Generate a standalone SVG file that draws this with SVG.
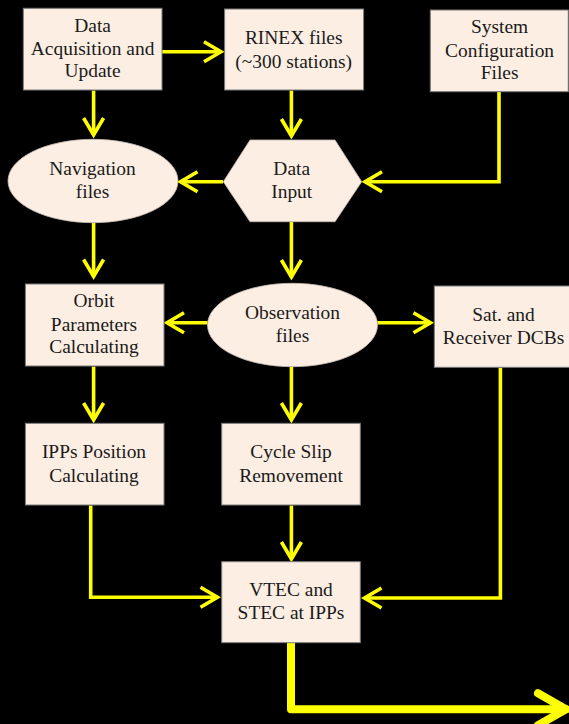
<svg xmlns="http://www.w3.org/2000/svg" width="569" height="724" viewBox="0 0 569 724">
  <style>
    .node { fill: #FCEEE3; stroke: #7a7a7a; stroke-width: 1; }
    .soft { fill: #FCEEE3; stroke: #c8bdb5; stroke-width: 0.8; }
    .lbl { font-family: "Liberation Serif", "Times New Roman", serif; font-size: 18px; fill: #1a1a1a; text-anchor: middle; }
    .wire { fill: none; stroke: #FFFF00; stroke-width: 3.6; stroke-linejoin: miter; }
    .wire-out { fill: none; stroke: #FFFF00; stroke-width: 8; stroke-linejoin: round; stroke-linecap: round; }
  </style>
  <defs>
    <marker id="head" markerUnits="userSpaceOnUse" viewBox="-24 -14 28 28" markerWidth="28" markerHeight="28" refX="0" refY="0" orient="auto" overflow="visible">
      <path d="M-17,-10 L0,0 L-17,10" fill="none" stroke="#FFFF00" stroke-width="3.6" stroke-linejoin="miter"/>
    </marker>
    <marker id="head-big" markerUnits="userSpaceOnUse" viewBox="-36 -22 40 44" markerWidth="40" markerHeight="44" refX="0" refY="0" orient="auto" overflow="visible">
      <path d="M-28,-16 L0,0 L-28,16" fill="none" stroke="#FFFF00" stroke-width="8" stroke-linejoin="round" stroke-linecap="round"/>
    </marker>
  </defs>

  <rect width="569" height="724" fill="#000000"/>

  <!-- connectors -->
  <g id="connectors">
    <path class="wire" d="M162,51.7 H221" marker-end="url(#head)"/>
    <path class="wire" d="M93.6,90.5 V135" marker-end="url(#head)"/>
    <path class="wire" d="M291.4,90.5 V136" marker-end="url(#head)"/>
    <path class="wire" d="M499,92 V181.7 H365" marker-end="url(#head)"/>
    <path class="wire" d="M223,181.7 H180.5" marker-end="url(#head)"/>
    <path class="wire" d="M93.6,223 V276.5" marker-end="url(#head)"/>
    <path class="wire" d="M291.4,222 V277" marker-end="url(#head)"/>
    <path class="wire" d="M207.5,322.7 H167" marker-end="url(#head)"/>
    <path class="wire" d="M377.5,322.7 H430.5" marker-end="url(#head)"/>
    <path class="wire" d="M93.6,366.5 V420" marker-end="url(#head)"/>
    <path class="wire" d="M291.4,367 V420" marker-end="url(#head)"/>
    <path class="wire" d="M291.4,505.5 V559" marker-end="url(#head)"/>
    <path class="wire" d="M90.7,505.5 V597.3 H217.5" marker-end="url(#head)"/>
    <path class="wire" d="M500.4,367.5 V598 H364.5" marker-end="url(#head)"/>
    <path class="wire-out" d="M291,643.5 V709.3 H566" marker-end="url(#head-big)"/>
  </g>

  <g id="data-acquisition">
    <rect class="node" x="23.3" y="8.3" width="138.7" height="81.7"/>
    <text class="lbl" transform="translate(92.6,32.3) scale(1.08,1)">Data</text>
    <text class="lbl" transform="translate(92.6,55) scale(1.08,1)">Acquisition and</text>
    <text class="lbl" transform="translate(92.6,77.3) scale(1.08,1)">Update</text>
  </g>

  <g id="rinex-files">
    <rect class="node" x="224.6" y="9" width="139" height="81"/>
    <text class="lbl" transform="translate(293.7,44.3) scale(1.08,1)">RINEX files</text>
    <text class="lbl" transform="translate(293.7,67.7) scale(1.08,1)">(~300 stations)</text>
  </g>

  <g id="system-configuration">
    <rect class="node" x="430.3" y="10" width="138" height="81.7"/>
    <text class="lbl" transform="translate(499.6,33.3) scale(1.08,1)">System</text>
    <text class="lbl" transform="translate(499.6,56.7) scale(1.08,1)">Configuration</text>
    <text class="lbl" transform="translate(499.6,79.3) scale(1.08,1)">Files</text>
  </g>

  <g id="navigation-files">
    <ellipse class="soft" cx="93" cy="181" rx="85" ry="41.7"/>
    <text class="lbl" transform="translate(92.5,175) scale(1.08,1)">Navigation</text>
    <text class="lbl" transform="translate(92.5,198.3) scale(1.08,1)">files</text>
  </g>

  <g id="data-input">
    <polygon class="soft" points="223.3,181.7 250,140 335,140 361.7,181.7 335,221.7 250,221.7"/>
    <text class="lbl" transform="translate(291.7,175) scale(1.08,1)">Data</text>
    <text class="lbl" transform="translate(291.7,198.3) scale(1.08,1)">Input</text>
  </g>

  <g id="orbit-parameters">
    <rect class="node" x="25.4" y="284" width="138.6" height="82"/>
    <text class="lbl" transform="translate(94,307.3) scale(1.08,1)">Orbit</text>
    <text class="lbl" transform="translate(94,331) scale(1.08,1)">Parameters</text>
    <text class="lbl" transform="translate(94,353.3) scale(1.08,1)">Calculating</text>
  </g>

  <g id="observation-files">
    <ellipse class="soft" cx="292.5" cy="325" rx="85" ry="41.7"/>
    <text class="lbl" transform="translate(292.5,319) scale(1.08,1)">Observation</text>
    <text class="lbl" transform="translate(292.5,342.3) scale(1.08,1)">files</text>
  </g>

  <g id="dcbs">
    <rect class="node" x="434.3" y="286" width="136" height="81.3"/>
    <text class="lbl" transform="translate(503.5,321) scale(1.08,1)">Sat. and</text>
    <text class="lbl" transform="translate(503.5,344) scale(1.08,1)">Receiver DCBs</text>
  </g>

  <g id="ipp-position">
    <rect class="node" x="25.4" y="423.3" width="138.6" height="81.7"/>
    <text class="lbl" transform="translate(94,458.3) scale(1.08,1)">IPPs Position</text>
    <text class="lbl" transform="translate(94,481.7) scale(1.08,1)">Calculating</text>
  </g>

  <g id="cycle-slip">
    <rect class="node" x="221.7" y="423.3" width="138.6" height="81.7"/>
    <text class="lbl" transform="translate(291,458.3) scale(1.08,1)">Cycle Slip</text>
    <text class="lbl" transform="translate(291,481.7) scale(1.08,1)">Removement</text>
  </g>

  <g id="vtec-stec">
    <rect class="node" x="221.7" y="561.7" width="138.6" height="81"/>
    <text class="lbl" transform="translate(291,596) scale(1.08,1)">VTEC and</text>
    <text class="lbl" transform="translate(291,619) scale(1.08,1)">STEC at IPPs</text>
  </g>
</svg>
